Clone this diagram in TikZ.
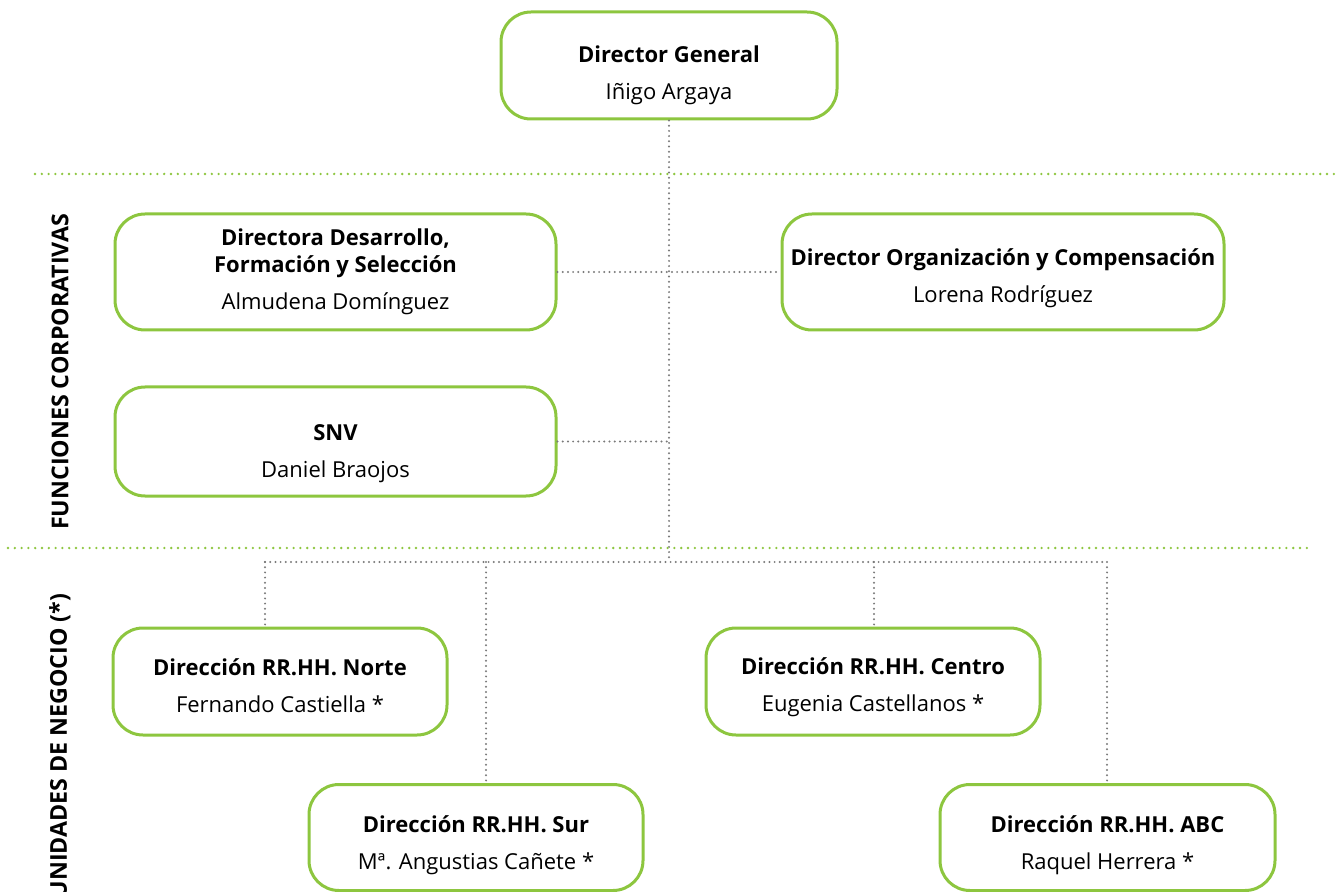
\documentclass[tikz,border=0pt]{standalone}
\usepackage{fontspec}
\setmainfont{Open Sans}
\usepackage{tikz}
\usetikzlibrary{positioning}

\definecolor{leaf}{HTML}{8DC63F}
\definecolor{dotgray}{HTML}{7A7A7A}
% raises the first line so the text block sits a bit low in its box
\newcommand{\topline}[1]{\rule{0pt}{#1}}

\begin{document}
\begin{tikzpicture}[
  x=0.5pt, y=-0.5pt,
  every node/.style={font=\fontsize{11}{13.5}\selectfont},
  post/.style={draw=leaf, line width=1.5pt, rounded corners=15pt, fill=white,
    align=center, inner sep=0pt},
  link/.style={draw=dotgray, line width=1.1pt, line cap=round, dash pattern=on 0pt off 2.6pt},
  band/.style={draw=leaf, line width=1.3pt, line cap=round, dash pattern=on 0pt off 3.4pt},
  side/.style={font=\bfseries\fontsize{11.6}{13}\selectfont, rotate=90}
]
\useasboundingbox (0,0) rectangle (1337,892);

% separators
\draw[band] (35,174) -- (1337,174);
\draw[band] (8,548) -- (1308,548);

% boxes
\node[post, minimum width=168pt, minimum height=53.5pt] (dg) at (669,65.5)
  {\topline{18pt}\textbf{Director General}\\[5pt] Iñigo Argaya};
\node[post, minimum width=220.5pt, minimum height=58pt] (ddfs) at (335.5,272)
  {\textbf{Directora Desarrollo,}\\\textbf{Formación y Selección}\\[5pt] Almudena Domínguez};
\node[post, minimum width=221pt, minimum height=58pt] (doc) at (1003,272)
  {\topline{14.5pt}\textbf{Director Organización y Compensación}\\[5pt] Lorena Rodríguez};
\node[post, minimum width=220.5pt, minimum height=54.5pt] (snv) at (335.5,441.5)
  {\topline{20pt}\textbf{SNV}\\[5pt] Daniel Braojos};
\node[post, minimum width=167pt, minimum height=53.5pt] (norte) at (280,681.5)
  {\topline{12.5pt}\textbf{Dirección RR.HH. Norte}\\[5pt] Fernando Castiella *};
\node[post, minimum width=167pt, minimum height=53.5pt] (centro) at (873,681.5)
  {\topline{14.5pt}\textbf{Dirección RR.HH. Centro}\\[5pt] Eugenia Castellanos *};
\node[post, minimum width=167pt, minimum height=53pt] (sur) at (476,837.5)
  {\topline{16.5pt}\textbf{Dirección RR.HH. Sur}\\[5pt] Mª. Angustias Cañete *};
\node[post, minimum width=167.5pt, minimum height=53pt] (abc) at (1107.5,837.5)
  {\topline{16.5pt}\textbf{Dirección RR.HH. ABC}\\[5pt] Raquel Herrera *};

% side labels
\node[side] (fc) at (60,372) {FUNCIONES CORPORATIVAS};
\node[side] (un) at (60,746) {UNIDADES DE NEGOCIO (*)};

% connectors
\coordinate (bus) at (669,562);
\coordinate (busL) at (265,562);
\coordinate (busS) at (486,562);
\coordinate (busC) at (874,562);
\coordinate (busR) at (1107,562);
\draw[link] (dg.south) -- (bus);
\draw[link] (ddfs.east) -- (doc.west);
\draw[link] (snv.east) -- (snv.east -| bus);
\draw[link] (busL) -- (busR);
\draw[link] (busL) -- (busL |- norte.north);
\draw[link] (busS) -- (busS |- sur.north);
\draw[link] (busC) -- (busC |- centro.north);
\draw[link] (busR) -- (busR |- abc.north);
\end{tikzpicture}
\end{document}
